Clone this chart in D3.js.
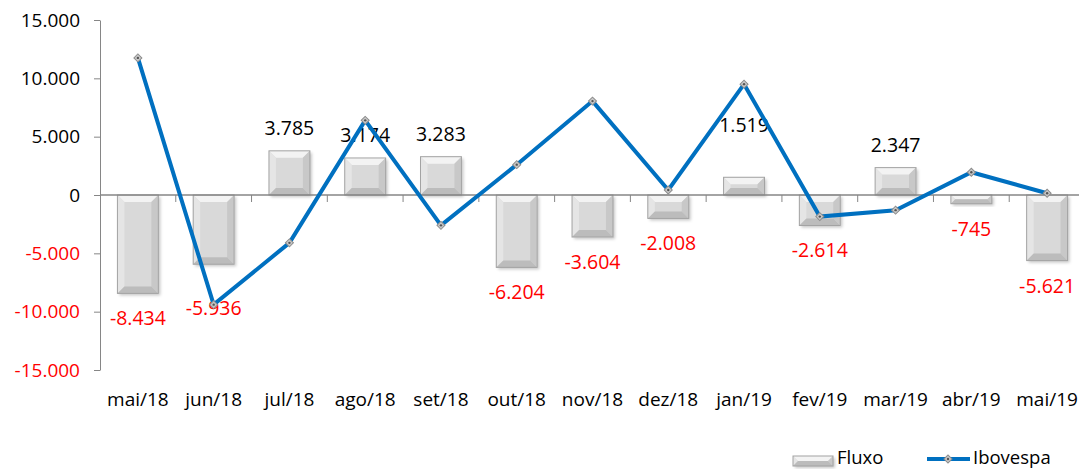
<!doctype html>
<html>
  <head>
    <meta charset="utf-8">
    <title>Fluxo x Ibovespa</title>
    <script src="https://cdn.jsdelivr.net/npm/d3@7"></script>
    <style>
      body { margin: 0; background: #fff; }
      text { font-family: "Open Sans", "Noto Sans", sans-serif; }
    </style>
  </head>
  <body>
    <script>
      const months = ['mai/18', 'jun/18', 'jul/18', 'ago/18', 'set/18', 'out/18', 'nov/18',
                      'dez/18', 'jan/19', 'fev/19', 'mar/19', 'abr/19', 'mai/19'];
      const fluxo = [-8434, -5936, 3785, 3174, 3283, -6204, -3604, -2008, 1519, -2614, 2347, -745, -5621];
      const ibovespa = [11750, -9400, -4100, 6400, -2600, 2600, 8050, 430, 9500, -1850, -1300, 1950, 150];
      const yTicks = [-15000, -10000, -5000, 0, 5000, 10000, 15000];

      const width = 1079;
      const height = 470;

      // número no formato brasileiro: 15.000
      const br = d3.formatLocale({ decimal: ',', thousands: '.', grouping: [3], currency: ['R$', ''], minus: '-' });
      const fmt = br.format(',d');

      const svg = d3.select('body').append('svg')
          .attr('width', width)
          .attr('height', height);

      const defs = svg.append('defs');
      const shadow = defs.append('filter').attr('id', 'shadow')
          .attr('x', '-20%').attr('y', '-20%').attr('width', '150%').attr('height', '150%');
      shadow.append('feDropShadow')
          .attr('dx', 2).attr('dy', 2).attr('stdDeviation', 1.5)
          .attr('flood-color', '#000').attr('flood-opacity', 0.22);

      // escalas
      const xCat = d3.scaleBand().domain(months).range([100, 1085]);
      const x = d3.scaleBand().domain(months).range([100, 1085])
          .paddingInner(0.46).paddingOuter(0.23);
      const cx = m => x(m) + x.bandwidth() / 2;

      const y = d3.scaleLinear().domain([-15000, 15000]).range([370, 20]);

      // eixo Y
      const yAxis = svg.append('g')
          .attr('transform', 'translate(100,0)')
          .call(d3.axisLeft(y).tickValues(yTicks).tickFormat(fmt).tickSize(6).tickSizeOuter(0).tickPadding(14));
      yAxis.select('.domain').attr('stroke', '#868686');
      yAxis.selectAll('.tick line').attr('stroke', '#868686');
      yAxis.selectAll('.tick text')
          .attr('font-size', 19)
          .attr('fill', d => d < 0 ? '#ff0000' : '#000');

      // barras com chanfro
      const bevelBar = (g, bx, by, bw, bh) => {
        const b = Math.min(7, bh / 2, bw / 2);
        g.append('rect').attr('x', bx).attr('y', by).attr('width', bw).attr('height', bh)
            .attr('fill', '#d9d9d9').attr('filter', 'url(#shadow)');
        const poly = (pts, fill) => g.append('polygon')
            .attr('points', pts.map(p => p.join(',')).join(' '))
            .attr('fill', fill);
        poly([[bx, by], [bx + bw, by], [bx + bw - b, by + b], [bx + b, by + b]], '#f3f3f3');
        poly([[bx, by], [bx + b, by + b], [bx + b, by + bh - b], [bx, by + bh]], '#e5e5e5');
        poly([[bx + bw, by], [bx + bw, by + bh], [bx + bw - b, by + bh - b], [bx + bw - b, by + b]], '#c8c8c8');
        poly([[bx, by + bh], [bx + b, by + bh - b], [bx + bw - b, by + bh - b], [bx + bw, by + bh]], '#bcbcbc');
        g.append('rect').attr('x', bx).attr('y', by).attr('width', bw).attr('height', bh)
            .attr('fill', 'none').attr('stroke', '#a3a3a3').attr('stroke-width', 1);
      };

      const gBars = svg.append('g');
      months.forEach((m, i) => {
        const v = fluxo[i];
        const top = y(Math.max(0, v));
        const h = Math.abs(y(v) - y(0));
        bevelBar(gBars.append('g'), x(m), top, x.bandwidth(), h);
      });

      // linha do zero e marcas das categorias
      svg.append('line')
          .attr('x1', 100).attr('x2', width)
          .attr('y1', y(0)).attr('y2', y(0))
          .attr('stroke', '#868686').attr('stroke-width', 1.5);
      svg.append('g').selectAll('line')
        .data(months.slice(1))
        .join('line')
          .attr('x1', d => xCat(d)).attr('x2', d => xCat(d))
          .attr('y1', y(0)).attr('y2', y(0) + 7)
          .attr('stroke', '#868686');

      // rótulos das categorias
      svg.append('g').selectAll('text')
        .data(months)
        .join('text')
          .attr('x', d => xCat(d) + xCat.bandwidth() / 2)
          .attr('y', 406)
          .attr('text-anchor', 'middle')
          .attr('font-size', 19)
          .text(d => d);

      // rótulos de valores (alguns deslocados à mão, como no original)
      const nudge = { 'jun/18': 19, 'jan/19': -29 };
      svg.append('g').selectAll('text')
        .data(months)
        .join('text')
          .attr('x', d => cx(d))
          .attr('y', (d, i) => {
            const v = fluxo[i];
            const base = v >= 0 ? y(v) - 16 : y(v) + 32;
            return base + (nudge[d] || 0);
          })
          .attr('text-anchor', 'middle')
          .attr('font-size', 19.5)
          .attr('fill', (d, i) => fluxo[i] < 0 ? '#ff0000' : '#000')
          .text((d, i) => fmt(fluxo[i]));

      // linha Ibovespa
      const line = d3.line()
          .x((d, i) => cx(months[i]))
          .y(d => y(d));

      svg.append('path')
          .datum(ibovespa)
          .attr('d', line)
          .attr('fill', 'none')
          .attr('stroke', '#0070c0')
          .attr('stroke-width', 4);

      const marker = (g, mx, my) => {
        g.append('path')
            .attr('d', d3.symbol(d3.symbolSquare, 32)())
            .attr('transform', `translate(${mx},${my}) rotate(45)`)
            .attr('fill', '#c8c8c8').attr('stroke', '#8c8c8c').attr('stroke-width', 1);
        g.append('circle').attr('cx', mx).attr('cy', my).attr('r', 1.2).attr('fill', '#555');
      };
      const gMarks = svg.append('g');
      ibovespa.forEach((v, i) => marker(gMarks, cx(months[i]), y(v)));

      // legenda
      const leg = svg.append('g');
      bevelBar(leg.append('g'), 793, 456, 40, 10);
      leg.append('text').attr('x', 837).attr('y', 464).attr('font-size', 18.5).text('Fluxo');
      leg.append('line').attr('x1', 927).attr('x2', 970).attr('y1', 459).attr('y2', 459)
          .attr('stroke', '#0070c0').attr('stroke-width', 4);
      marker(leg, 948, 459);
      leg.append('text').attr('x', 973).attr('y', 464).attr('font-size', 18.5).text('Ibovespa');
    </script>
  </body>
</html>
